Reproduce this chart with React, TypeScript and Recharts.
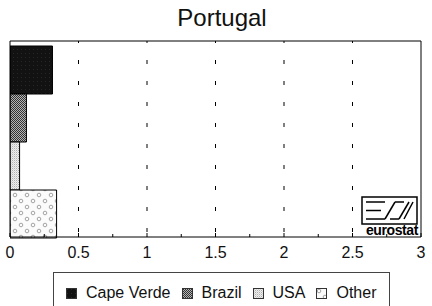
import React from 'react';
import { BarChart, Bar, XAxis, YAxis, ReferenceLine } from 'recharts';

const categories = ['Portugal'];
const seriesNames = ['Cape Verde', 'Brazil', 'USA', 'Other'];
const seriesKeys = ['capeVerde', 'brazil', 'usa', 'other'];
const seriesValues = [0.31, 0.12, 0.07, 0.34];
const seriesFills = ['url(#patCV)', 'url(#patBR)', 'url(#patUS)', 'url(#patOT)'];
const xTicks = [0, 0.25, 0.5, 0.75, 1, 1.25, 1.5, 1.75, 2, 2.25, 2.5, 2.75, 3];
const xLabels = ['0', '', '0.5', '', '1', '', '1.5', '', '2', '', '2.5', '', '3'];
const gridValues = [0.5, 1, 1.5, 2, 2.5];

const data = categories.map((name) => {
  const row: Record<string, string | number> = { name };
  seriesKeys.forEach((k, i) => {
    row[k] = seriesValues[i];
  });
  return row;
});

const FONT = '"Liberation Sans", Arial, Helvetica, sans-serif';

const Tick = (props: any) => {
  const { x, y, index } = props;
  const label = xLabels[index] ?? '';
  const major = label !== '';
  return (
    <g>
      <line x1={x} x2={x} y1={y} y2={y - (major ? 4 : 3)} stroke="#000" strokeWidth={1} />
      {label && (
        <text x={x} y={y + 21} textAnchor="middle" fontSize={16} fontFamily={FONT} fill="#111">
          {label}
        </text>
      )}
    </g>
  );
};

const Defs = () => (
  <defs>
    <pattern id="patCV" width="4" height="4" patternUnits="userSpaceOnUse">
      <rect width="4" height="4" fill="#121212" />
      <rect x="1" y="1" width="1" height="1" fill="#262626" />
    </pattern>
    <pattern id="patBR" width="2" height="2" patternUnits="userSpaceOnUse">
      <rect width="2" height="2" fill="#b4b4b4" />
      <rect x="0" y="0" width="1" height="1" fill="#333" />
      <rect x="1" y="1" width="1" height="1" fill="#333" />
    </pattern>
    <pattern id="patUS" width="2" height="2" patternUnits="userSpaceOnUse">
      <rect width="2" height="2" fill="#efefef" />
      <rect x="0" y="0" width="1" height="1" fill="#b0b0b0" />
      <rect x="1" y="1" width="1" height="1" fill="#d4d4d4" />
    </pattern>
    <pattern id="patOT" width="12" height="12" patternUnits="userSpaceOnUse">
      <rect width="12" height="12" fill="#fbfbfb" />
      <circle cx="3" cy="3" r="1.8" fill="none" stroke="#9a9a9a" strokeWidth="0.9" />
      <circle cx="9" cy="9" r="1.8" fill="none" stroke="#9a9a9a" strokeWidth="0.9" />
    </pattern>
  </defs>
);

const Logo = () => (
  <svg
    width={432}
    height={306}
    style={{ position: 'absolute', left: 0, top: 0, pointerEvents: 'none' }}
  >
    <rect x={362} y={197} width={55} height={27} fill="#fff" stroke="#000" strokeWidth={1.5} />
    <g stroke="#000" strokeWidth={1.5} fill="none">
      <line x1={366} y1={202} x2={385} y2={202} />
      <line x1={366} y1={210.5} x2={381} y2={210.5} />
      <line x1={366} y1={219} x2={385} y2={219} />
      <line x1={385} y1={219} x2={395} y2={202} />
      <line x1={395} y1={202} x2={404} y2={202} />
      <line x1={390} y1={219} x2={399} y2={219} />
      <line x1={399} y1={219} x2={409} y2={202} />
      <line x1={404} y1={219} x2={413} y2={202} />
    </g>
    <text
      x={418}
      y={235}
      textAnchor="end"
      fontSize={14}
      fontWeight="bold"
      fontFamily={FONT}
      fill="#000"
      letterSpacing={-0.4}
    >
      eurostat
    </text>
  </svg>
);

export default function App() {
  return (
    <div
      style={{
        position: 'absolute',
        left: 0,
        top: 0,
        width: 432,
        height: 306,
        background: '#fff',
        fontFamily: FONT,
        overflow: 'hidden',
      }}
    >
      <div
        style={{
          position: 'absolute',
          left: 0,
          top: 4,
          width: 444,
          textAlign: 'center',
          fontSize: 24,
          lineHeight: '28px',
          color: '#111',
        }}
      >
        Portugal
      </div>
      <div style={{ position: 'absolute', left: 0, top: 0 }}>
        <BarChart
          width={432}
          height={306}
          layout="vertical"
          data={data}
          margin={{ top: 40, right: 10, left: 9, bottom: 39 }}
          barCategoryGap={0}
          barGap={0}
        >
          <Defs />
          <XAxis
            type="number"
            domain={[0, 3]}
            ticks={xTicks}
            interval={0}
            height={30}
            tickSize={0}
            tickMargin={0}
            tickLine={false}
            axisLine={{ stroke: '#000', strokeWidth: 1 }}
            tick={<Tick />}
            allowDataOverflow
          />
          <XAxis
            xAxisId="top"
            orientation="top"
            type="number"
            domain={[0, 3]}
            ticks={[0, 3]}
            height={1}
            tick={false}
            tickLine={false}
            axisLine={{ stroke: '#000', strokeWidth: 1 }}
          />
          <YAxis
            type="category"
            dataKey="name"
            width={1}
            tick={false}
            tickLine={false}
            axisLine={{ stroke: '#000', strokeWidth: 1 }}
            padding={{ top: 5, bottom: 0 }}
          />
          <YAxis
            yAxisId="r"
            orientation="right"
            type="category"
            dataKey="name"
            width={1}
            tick={false}
            tickLine={false}
            axisLine={{ stroke: '#000', strokeWidth: 1 }}
          />
          {gridValues.map((v) => (
            <ReferenceLine
              key={v}
              x={v}
              stroke="#000"
              strokeWidth={1}
              strokeDasharray="4 17"
              strokeDashoffset={16}
            />
          ))}
          {seriesKeys.map((k, i) => (
            <Bar
              key={k}
              dataKey={k}
              name={seriesNames[i]}
              fill={seriesFills[i]}
              stroke="#000"
              strokeWidth={1}
              isAnimationActive={false}
            />
          ))}
        </BarChart>
      </div>
      <Logo />
      <div
        style={{
          position: 'absolute',
          left: 53,
          top: 272,
          width: 337,
          height: 40,
          border: '1px solid #444',
          boxSizing: 'border-box',
          display: 'flex',
          alignItems: 'flex-start',
          paddingLeft: 12,
          paddingTop: 11,
          fontSize: 16,
          lineHeight: '18px',
          color: '#111',
          whiteSpace: 'nowrap',
        }}
      >
        {seriesNames.map((n, i) => (
          <div key={n} style={{ display: 'flex', alignItems: 'center', marginRight: 11 }}>
            <svg width={11} height={11} style={{ marginRight: 9, display: 'block' }}>
              <rect x={0.5} y={0.5} width={10} height={10} fill={seriesFills[i]} stroke="#333" />
            </svg>
            <span>{n}</span>
          </div>
        ))}
      </div>
    </div>
  );
}
